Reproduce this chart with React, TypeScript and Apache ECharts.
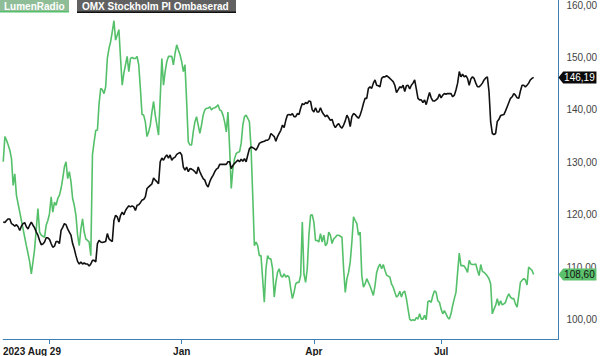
import React, { useEffect, useRef } from "react";
import * as echarts from "echarts";

const lumenValues = [
  130.1, 134.9, 134.2, 133.3, 132.3, 130.7, 125.6, 127.8, 123.7, 122.1,
  120.5, 118.9, 117.3, 115.7, 114.1, 112.6, 111.0, 108.7, 111.0, 113.5,
  117.3, 121.2, 116.7, 116.1, 115.9, 115.7, 118.0, 118.9, 120.2, 123.4,
  120.5, 122.4, 121.8, 123.1, 123.7, 125.0, 126.9, 129.1, 130.1, 126.9,
  128.2, 126.3, 123.1, 121.8, 119.9, 116.1, 114.1, 117.3, 119.2, 116.7,
  115.4, 115.1, 114.8, 112.2,
  131.4, 133.9, 136.1, 136.1, 141.2, 144.1, 143.8, 143.1, 144.4, 149.8,
  151.7, 153.0, 154.9, 157.0, 153.3, 154.3, 155.3, 149.8, 144.7, 147.0,
  148.6, 150.2, 147.3, 149.8, 150.0, 149.8, 149.8, 150.2, 148.6, 144.1,
  139.1, 139.0, 137.7, 134.9, 135.8, 137.1, 139.6, 141.6, 139.0, 137.1,
  135.2, 142.2, 149.8, 144.7, 147.3, 149.2, 150.2, 150.2, 150.2, 148.6,
  150.8, 152.4, 151.4, 150.5,
  149.2, 147.3, 148.6, 141.6, 133.9, 133.3, 133.3, 135.8, 137.7, 138.7,
  137.1, 135.5, 137.1, 139.0, 140.0, 140.3, 140.3, 140.6, 140.0, 140.3,
  140.4, 140.6, 141.0, 140.0, 139.8, 139.0, 137.7, 135.8, 139.6, 132.9,
  125.0, 128.8, 130.7, 131.7, 131.9, 132.0, 133.6, 137.1, 138.7, 139.0,
  138.4, 137.7, 132.6, 123.7, 114.1, 114.8, 114.1, 112.2, 112.2, 107.8,
  103.3, 109.7, 112.2, 111.6,
  111.6, 109.7, 104.3, 107.1, 109.0, 109.7, 108.4, 108.1, 108.7, 108.1,
  108.4, 108.1, 105.9, 104.0, 105.2, 106.8, 107.1, 107.1, 108.4, 118.6,
  108.7, 107.1, 109.7, 116.1, 119.9, 120.0, 118.6, 115.1, 115.1, 114.8,
  116.4, 114.8, 116.1, 114.1, 114.5, 116.7, 116.1, 114.5, 115.4, 115.7,
  116.1, 116.1, 115.9, 115.7, 109.7, 105.2, 107.8, 109.0, 111.0, 114.8,
  119.6, 118.9, 118.3, 116.1,
  116.7, 108.4, 106.2, 106.8, 107.8, 107.1, 106.4, 105.5, 104.6, 106.5,
  109.0, 110.0, 110.6, 109.7, 110.5, 109.4, 108.5, 108.3, 108.1, 106.8,
  106.2, 105.2, 104.3, 104.6, 105.4, 104.3, 105.2, 105.4, 104.0, 102.0,
  100.1, 99.8, 100.0, 99.8, 100.4, 100.1, 101.1, 100.1, 100.1, 100.8,
  100.0, 103.4, 103.6, 103.3, 104.6, 105.5, 105.2, 103.6, 103.3, 102.0,
  101.1, 101.7, 101.1, 100.4,
  100.1, 101.1, 102.7, 104.0, 105.2, 109.0, 112.7, 110.3, 110.3, 110.2,
  109.7, 109.0, 111.3, 110.6, 110.5, 110.5, 110.6, 109.4, 108.4, 110.5,
  109.2, 109.0, 108.7, 108.3, 107.8, 106.8, 101.1, 102.0, 102.7, 104.0,
  102.7, 103.6, 102.8, 103.0, 103.3, 104.3, 104.9, 104.3, 104.0, 104.0,
  103.0, 102.4, 104.6, 107.1, 107.5, 107.8, 107.6, 106.6, 110.0, 109.7,
  109.4, 108.6,
];

const omxValues = [
  118.6, 118.5, 118.9, 119.2, 119.2, 118.3, 118.1, 117.8, 118.1, 117.7,
  117.0, 117.8, 118.3, 118.5, 117.7, 117.3, 118.0, 118.6, 118.0, 117.5,
  116.7, 116.1, 115.1, 114.3, 114.4, 114.8, 115.6, 115.6, 115.3, 114.5,
  113.8, 114.0, 114.9, 114.9, 114.5, 117.0, 117.6, 118.3, 118.1, 117.3,
  116.7, 116.1, 114.5, 113.5, 112.2, 111.1, 110.6, 111.0, 110.6, 110.8,
  110.6, 110.6, 110.2, 110.6,
  111.3, 111.3, 111.0, 114.5, 115.1, 114.8, 114.7, 114.8, 114.9, 116.4,
  115.4, 115.1, 114.9, 118.9, 119.9, 119.6, 118.6, 119.9, 120.5, 120.0,
  120.8, 121.3, 121.7, 121.5, 121.7, 121.5, 120.8, 121.8, 121.9, 122.3,
  122.8, 122.9, 123.4, 125.0, 125.3, 125.6, 125.9, 127.0, 126.6, 126.3,
  125.9, 130.1, 130.8, 130.4, 131.0, 131.4, 130.8, 131.4, 130.4, 130.8,
  131.0, 131.5, 131.7, 131.9,
  131.4, 129.1, 128.5, 129.1, 128.2, 128.8, 128.7, 128.5, 128.2, 127.8,
  129.1, 128.2, 127.5, 126.9, 126.6, 125.7, 125.3, 126.3, 127.0, 127.5,
  128.2, 128.7, 128.9, 129.6, 129.6, 129.6, 129.6, 129.6, 130.1, 130.1,
  128.8, 129.4, 129.8, 130.1, 130.4, 130.1, 130.6, 130.2, 130.7, 130.1,
  131.4, 132.6, 132.9, 132.8, 132.6, 132.3, 132.9, 133.6, 133.8, 133.9,
  134.0, 134.2, 134.2, 134.5,
  135.5, 135.2, 134.9, 134.0, 134.9, 135.5, 136.1, 137.1, 136.6, 138.0,
  139.0, 139.1, 139.0, 139.3, 138.7, 138.7, 139.3, 139.1, 140.3, 141.2,
  141.0, 141.4, 141.2, 141.7, 141.6, 140.0, 139.6, 140.4, 139.6, 139.6,
  140.4, 139.6, 139.1, 138.7, 139.0, 138.5, 138.0, 138.2, 137.2, 136.6,
  137.1, 137.4, 136.8, 136.5, 137.1, 137.9, 139.0, 138.4, 136.8, 138.7,
  139.3, 139.1, 138.7, 138.4,
  139.0, 140.0, 141.2, 142.2, 142.2, 144.1, 144.4, 144.1, 145.1, 145.7,
  144.7, 144.6, 144.4, 146.0, 146.3, 146.3, 146.5, 146.3, 146.0, 145.7,
  145.4, 144.7, 143.3, 143.8, 144.4, 144.2, 144.7, 143.5, 144.6, 144.7,
  144.0, 144.7, 145.1, 145.7, 144.0, 142.2, 141.9, 141.9, 141.4, 141.9,
  141.0, 142.2, 143.3, 142.3, 141.7, 141.7, 141.9, 142.2, 143.0, 142.3,
  142.8, 143.1, 143.0, 143.1,
  143.1, 143.1, 142.5, 142.8, 143.8, 145.1, 147.3, 146.3, 146.8, 146.3,
  146.5, 146.0, 144.7, 145.9, 146.3, 146.0, 145.1, 144.4, 144.4, 144.7,
  145.1, 145.7, 146.1, 146.3, 143.5, 137.7, 135.5, 135.3, 135.5, 137.8,
  138.2, 138.9, 139.0, 139.1, 139.8, 140.6, 141.4, 142.2, 142.5, 143.1,
  142.8, 142.3, 142.2, 143.6, 144.7, 144.7, 144.4, 144.7, 145.1, 145.7,
  146.0, 146.19,
];

const CATEGORY_COUNT = 337;
const categories = Array.from({ length: CATEGORY_COUNT }, (_, i) => String(i));
const tickIndex = [28, 108, 188, 265];
const tickText = ["2023 Aug 29", "Jan", "Apr", "Jul"];
const seriesNames = ["LumenRadio", "OMX Stockholm PI Ombaserad"];

const GREEN = "#55c06a";
const BLACK = "#111111";
const AXIS = "#3e80b3";
const FONT = "'Liberation Sans', Arial, sans-serif";

const fmt = (v: number) => v.toFixed(2).replace(".", ",");
const TAG_PATH = "path://M0 6 L5 0 L40 0 L40 12 L5 12 Z";

function tag(last: number, bg: string, fg: string) {
  return {
    silent: true,
    symbol: TAG_PATH,
    symbolSize: [38, 12],
    symbolOffset: [19, 0],
    symbolKeepAspect: false,
    itemStyle: { color: bg },
    label: {
      show: true,
      position: "inside",
      offset: [2, 0],
      color: fg,
      fontSize: 10,
      fontFamily: FONT,
      formatter: () => fmt(last),
    },
    data: [{ coord: [CATEGORY_COUNT - 1, last], value: last }],
  };
}

export default function App() {
  const ref = useRef<HTMLDivElement>(null);
  useEffect(() => {
    if (!ref.current) return;
    const chart = echarts.init(ref.current, null, { renderer: "svg" });
    const lastL = lumenValues[lumenValues.length - 1];
    const lastO = omxValues[omxValues.length - 1];
    chart.setOption({
      animation: false,
      backgroundColor: "#ffffff",
      grid: { left: 0, top: 0, right: 39.4, bottom: 17, containLabel: false },
      xAxis: {
        type: "category",
        data: categories,
        boundaryGap: false,
        axisLine: { show: true, lineStyle: { color: AXIS, width: 1 } },
        axisTick: {
          show: true,
          length: 5,
          lineStyle: { color: AXIS },
          interval: (i: number) => tickIndex.includes(i),
        },
        axisLabel: {
          show: true,
          margin: 7,
          interval: (i: number) => tickIndex.includes(i),
          color: "#1a1a1a",
          fontSize: 10,
          fontWeight: "bold",
          fontFamily: FONT,
          formatter: (_v: string, i: number) => {
            const k = tickIndex.indexOf(i);
            if (k < 0) return "";
            return k === 0 ? "{first|" + tickText[k] + "}" : tickText[k];
          },
          rich: {
            first: {
              fontSize: 10,
              fontWeight: "bold",
              fontFamily: FONT,
              color: "#1a1a1a",
              padding: [0, 35, 0, 0],
            },
          },
        },
        splitLine: { show: false },
      },
      yAxis: {
        type: "value",
        position: "right",
        min: 96.3,
        max: 160.95,
        minInterval: 10,
        maxInterval: 10,
        axisLine: { show: true, lineStyle: { color: AXIS, width: 1 } },
        axisTick: { show: false },
        splitLine: { show: false },
        axisLabel: {
          margin: 8,
          color: "#444444",
          fontSize: 10,
          fontFamily: FONT,
          showMinLabel: false,
          showMaxLabel: false,
          formatter: (v: number) => fmt(v),
        },
      },
      graphic: [
        { type: "rect", shape: { x: 0, y: 0, width: 69, height: 12 }, style: { fill: "#8fbd98" }, silent: true },
        { type: "rect", shape: { x: 0, y: 11, width: 69, height: 1.5 }, style: { fill: GREEN }, silent: true },
        {
          type: "text",
          x: 4,
          y: 1,
          style: { text: seriesNames[0], fill: "#ffffff", font: "bold 10px " + FONT, textVerticalAlign: "top" },
          silent: true,
        },
        { type: "rect", shape: { x: 77, y: 0, width: 159, height: 12 }, style: { fill: "#616161" }, silent: true },
        { type: "rect", shape: { x: 77, y: 11.5, width: 159, height: 1.5 }, style: { fill: "#111111" }, silent: true },
        {
          type: "text",
          x: 82,
          y: 1,
          style: { text: seriesNames[1], fill: "#ffffff", font: "bold 10px " + FONT, textVerticalAlign: "top" },
          silent: true,
        },
      ],
      series: [
        {
          name: seriesNames[0],
          type: "line",
          data: lumenValues,
          showSymbol: false,
          symbol: "none",
          lineStyle: { color: GREEN, width: 1.6 },
          itemStyle: { color: GREEN },
          z: 2,
          markPoint: tag(lastL, "#5cc06d", "#111111"),
        },
        {
          name: seriesNames[1],
          type: "line",
          data: omxValues,
          showSymbol: false,
          symbol: "none",
          lineStyle: { color: BLACK, width: 1.6 },
          itemStyle: { color: BLACK },
          z: 3,
          markPoint: tag(lastO, "#0a0a0a", "#ffffff"),
        },
      ],
    });
    return () => chart.dispose();
  }, []);
  return (
    <div
      ref={ref}
      style={{ position: "fixed", left: 0, top: 0, width: 600, height: 356, background: "#fff" }}
    />
  );
}
